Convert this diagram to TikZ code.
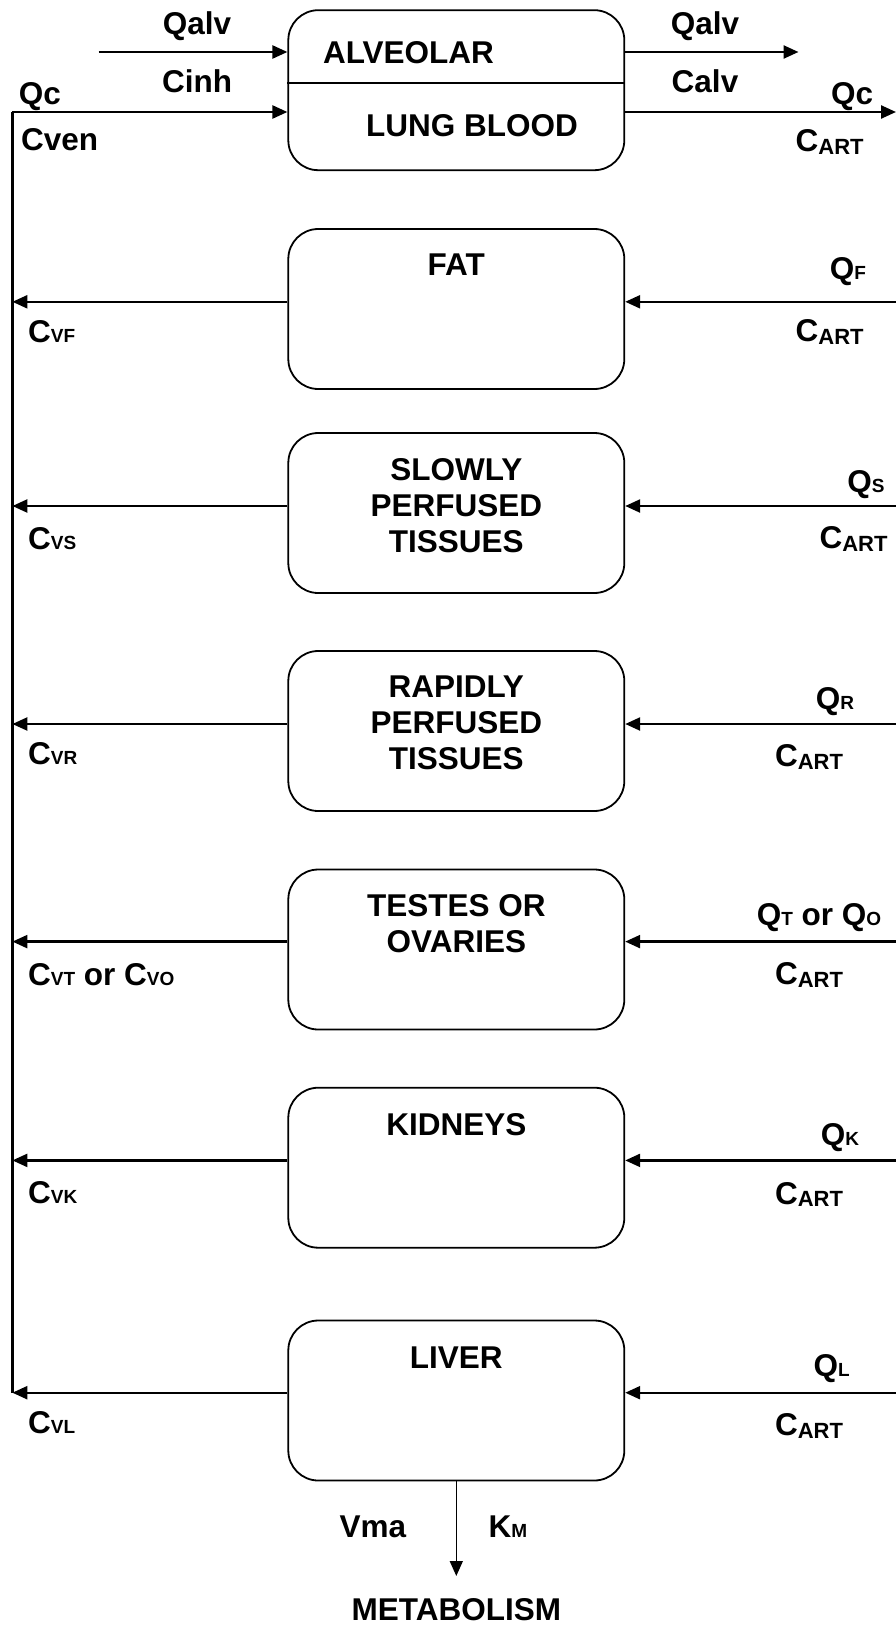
\documentclass[tikz,border=0pt]{standalone}
\usepackage{fontspec}
\setmainfont{Liberation Sans}
\usetikzlibrary{arrows.meta}
\newcommand{\lsub}[1]{{\fontsize{19}{19}\selectfont #1}}
\newcommand{\artsub}{\raisebox{-2.5pt}{\fontsize{22}{22}\selectfont ART}}
\begin{document}
\begin{tikzpicture}[x=1pt,y=-1pt,
  box/.style={draw, line width=1.8pt, rounded corners=30pt, minimum width=336pt, minimum height=160pt, inner sep=0pt},
  txt/.style={font=\fontsize{31.5}{36}\selectfont\bfseries, inner sep=0pt, align=center},
  arr/.style={line width=2.4pt, -{Triangle[length=15pt,width=13pt]}},
  thin arr/.style={line width=1.5pt, -{Triangle[length=15pt,width=13pt]}},
  plain/.style={line width=2.4pt}]
\useasboundingbox (0,0) rectangle (896,1627);

% boxes
\node[box] (lung) at (456.3,90.2) {};
\node[box] (fat) at (456.3,309) {};
\node[box] (slow) at (456.3,513) {};
\node[box] (rapid) at (456.3,731) {};
\node[box] (testes) at (456.3,949.5) {};
\node[box] (kid) at (456.3,1167.7) {};
\node[box] (liver) at (456.3,1400.5) {};

% lung divider
\coordinate (dv) at (0,83);
\draw[line width=1.8pt] (lung.west |- dv) -- (lung.east |- dv);

% box texts
\node[txt] (talv) at (408.5,52.5) {ALVEOLAR};
\node[txt] (tlung) at (472,125.5) {LUNG BLOOD};
\node[txt] (tfat) at (456.3,264.5) {FAT};
\node[txt] (tslow) at (456.3,506) {SLOWLY\\PERFUSED\\TISSUES};
\node[txt] (trapid) at (456.3,723) {RAPIDLY\\PERFUSED\\TISSUES};
\node[txt] (ttestes) at (456.3,923.3) {TESTES OR\\OVARIES};
\node[txt] (tkid) at (456.3,1125) {KIDNEYS};
\node[txt] (tliver) at (456.3,1358) {LIVER};

% lung connectors
\coordinate (qin) at (98.5,52);
\coordinate (qout) at (798.5,52);
\coordinate (vtop) at (12.4,112);
\coordinate (cout) at (896,112);
\coordinate (vbot) at (12.4,1392.7);
\draw[arr] (qin) -- (qin -| lung.west);
\draw[arr] (qin -| lung.east) -- (qout);
\draw[plain] (vbot) -- (vtop);
\draw[arr] (vtop) -- (vtop -| lung.west);
\draw[arr] (vtop -| lung.east) -- (cout);

\node[txt] (l1) at (197,26) {Qalv};
\node[txt] (l2) at (197,81) {Cinh};
\node[txt,anchor=west] (l3) at (18.7,96.5) {Qc};
\node[txt,anchor=west] (l4) at (21,140) {Cven};
\node[txt] (l5) at (705,26) {Qalv};
\node[txt] (l6) at (705,81) {Calv};
\node[txt] (l7) at (852,96.5) {Qc};
\node[txt] (l8) at (829.6,142) {C\artsub};

% tissue connectors
\foreach \b/\y in {fat/301.8, slow/506, rapid/724, testes/941.6, kid/1160.4, liver/1392.7}{
  \coordinate (R\b) at (896,\y);
  \coordinate (L\b) at (12.4,\y);
  \draw[arr] (R\b) -- (R\b -| \b.east);
  \draw[arr] (L\b -| \b.west) -- (L\b);
}

% tissue labels
\node[txt] (qf) at (848,272) {Q\lsub{F}};
\node[txt] (af) at (829.6,332) {C\artsub};
\node[txt,anchor=west] (cf) at (28,332) {C\lsub{VF}};

\node[txt] (qs) at (866,485) {Q\lsub{S}};
\node[txt] (as) at (853.5,539) {C\artsub};
\node[txt,anchor=west] (cs) at (28,539) {C\lsub{VS}};

\node[txt] (qr) at (835,702) {Q\lsub{R}};
\node[txt] (ar) at (809,757) {C\artsub};
\node[txt,anchor=west] (cr) at (28,754) {C\lsub{VR}};

\node[txt] (qt) at (819,918) {Q\lsub{T} or Q\lsub{O}};
\node[txt] (at) at (809,975) {C\artsub};
\node[txt,anchor=west] (ct) at (28,975) {C\lsub{VT} or C\lsub{VO}};

\node[txt] (qk) at (840,1137.6) {Q\lsub{K}};
\node[txt] (ak) at (809,1194.6) {C\artsub};
\node[txt,anchor=west] (ck) at (28,1192.5) {C\lsub{VK}};

\node[txt] (ql) at (831.7,1369) {Q\lsub{L}};
\node[txt] (al) at (809,1426) {C\artsub};
\node[txt,anchor=west] (cl) at (28,1423) {C\lsub{VL}};

% metabolism
\node[txt] (met) at (456.3,1610) {METABOLISM};
\coordinate (mend) at (456.3,1576);
\draw[thin arr] (liver.south) -- (mend);
\node[txt] (vma) at (373,1526.5) {Vma};
\node[txt] (km) at (508,1526.5) {K\lsub{M}};
\end{tikzpicture}
\end{document}
